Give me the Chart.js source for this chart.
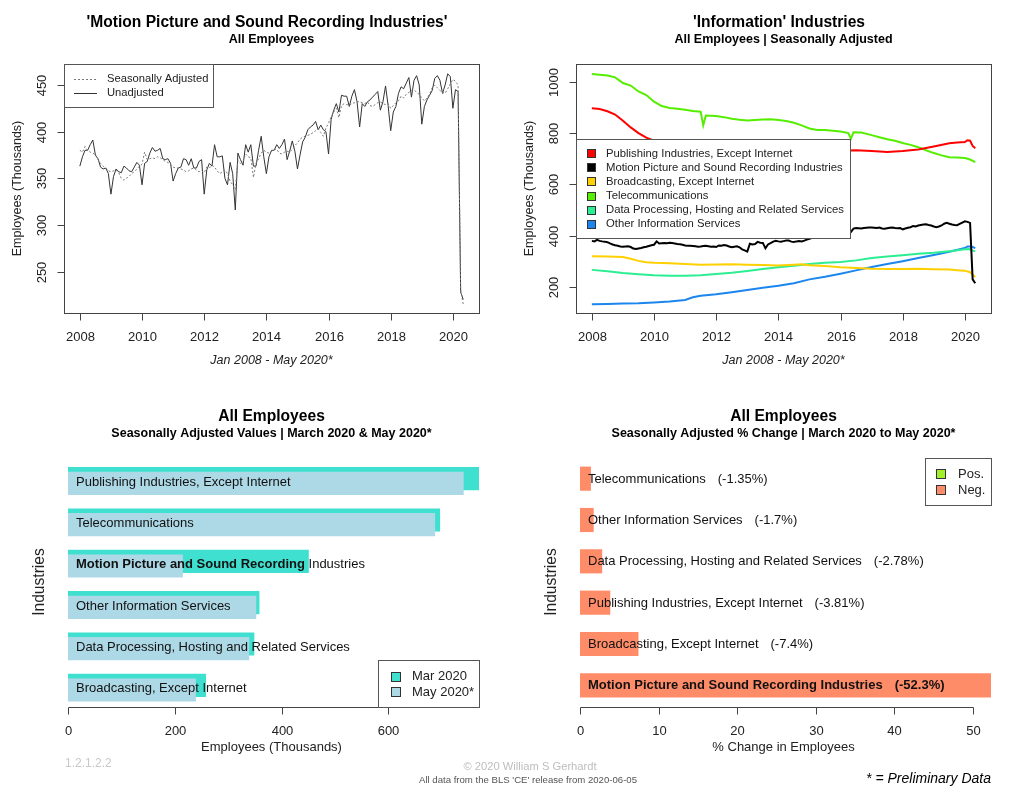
<!DOCTYPE html>
<html><head><meta charset="utf-8">
<script src="https://cdn.jsdelivr.net/npm/chart.js"></script>
<style>
html,body{margin:0;padding:0;background:#fff}
body{width:1024px;height:788px;position:relative;overflow:hidden;font-family:"Liberation Sans",Arial,sans-serif}
canvas{position:absolute}
.t{position:absolute;white-space:nowrap;line-height:1}
</style></head><body>
<canvas id="c1" width="512" height="394" style="left:0;top:0"></canvas>
<canvas id="c2" width="512" height="394" style="left:512px;top:0"></canvas>
<canvas id="c3" width="512" height="394" style="left:0;top:394px"></canvas>
<canvas id="c4" width="512" height="394" style="left:512px;top:394px"></canvas>
<div class="t" style="left:65px;top:757px;font-size:12px;color:#c8c8c8">1.2.1.2.2</div>
<div class="t" style="left:530px;top:767px;transform:translate(-50%,-50%);font-size:11.2px;color:#bdbdbd">© 2020 William S Gerhardt</div>
<div class="t" style="left:528px;top:780px;transform:translate(-50%,-50%);font-size:9.6px;color:#555">All data from the BLS 'CE' release from 2020-06-05</div>
<div class="t" style="right:33px;top:778px;transform:translateY(-50%);font-size:14px;font-style:italic;color:#000">* = Preliminary Data</div>
<script>
// ---------------- DATA ----------------
const startYear = 2008; // monthly series start Jan 2008, end May 2020
const yearTicks = [2008, 2010, 2012, 2014, 2016, 2018, 2020];
const motionTicks = [250, 300, 350, 400, 450];
const infoTicks = [200, 400, 600, 800, 1000];
const employeeTicks = [0, 200, 400, 600];
const pctTicks = [0, 10, 20, 30, 40, 50];

// Motion Picture and Sound Recording Industries (thousands), monthly
const motionSA = [
 380,378,384,380,378,377,375,370,366,363,361,358,
 357,358,359,356,350,348,350,352,355,357,360,363,
 365,378,370,371,372,371,373,372,370,368,367,365,
 362,361,361,360,359,357,358,360,361,359,357,358,
 356,362,361,364,362,358,355,357,359,355,347,343,
 338,369,366,368,376,373,372,351,366,371,377,380,
 378,377,379,381,381,377,376,378,379,378,381,385,
 388,392,394,395,396,397,399,401,403,399,395,404,
 409,416,421,425,415,428,430,429,428,430,431,432,
 432,431,430,432,428,427,429,431,432,430,429,430,
 425,428,431,433,438,436,440,442,444,445,442,440,
 436,433,436,440,447,450,447,444,442,441,446,451,
 456,454,450,230,215];
const motionNSA = [
 363,373,380,380,386,391,375,371,362,360,361,355,
 333,352,360,357,356,363,361,358,357,362,367,364,
 343,366,368,377,383,379,380,382,371,370,371,366,
 347,355,361,362,371,370,364,371,361,361,368,370,
 333,359,366,363,386,373,373,374,350,343,367,355,
 316,377,370,364,386,378,386,363,363,380,395,373,
 355,373,380,380,386,382,386,392,370,379,390,379,
 360,375,389,394,402,405,407,411,402,407,402,400,
 376,413,423,430,421,439,438,438,427,438,445,432,
 405,430,427,432,434,437,440,443,423,432,449,428,
 401,421,427,441,448,446,452,458,437,455,460,450,
 408,427,434,439,444,457,460,455,441,450,462,459,
 425,445,443,228,220];

// 'Information' industries, seasonally adjusted: [month index from Jan 2008, thousands]
const publishing = [[0,897],[3,894],[6,885],[9,872],[12,848],[15,822],[18,800],[21,782],[24,770],[30,758],[36,750],[42,744],[48,740],[54,737],[60,734],[66,732],[72,730],[78,729],[84,729],[90,730],[96,731],[102,733],[108,730],[114,726],[120,730],[126,736],[132,748],[138,760],[141,763],[144,765],[145,772],[146,770],[147,750],[148,741]];
const broadcasting = [[0,320],[6,319],[12,317],[15,310],[18,302],[21,297],[24,295],[30,293],[36,290],[42,287],[48,288],[54,289],[60,287],[66,286],[72,284],[78,287],[81,289],[84,285],[90,282],[96,277],[102,274],[108,271],[114,270],[120,270],[126,271],[132,269],[138,268],[141,266],[144,264],[146,258],[147,248],[148,239]];
const telecom = [[0,1030],[3,1027],[6,1024],[9,1017],[12,995],[15,985],[18,962],[21,948],[24,922],[27,905],[30,898],[33,895],[36,891],[39,886],[42,883],[43,830],[44,868],[48,866],[51,862],[54,856],[57,852],[60,849],[63,851],[66,853],[69,854],[72,851],[75,847],[78,840],[81,830],[84,818],[87,812],[90,812],[93,809],[96,806],[99,800],[100,778],[101,803],[104,802],[108,792],[111,784],[114,776],[117,770],[120,761],[123,754],[126,745],[129,733],[132,722],[135,713],[138,706],[141,705],[144,703],[146,697],[148,687]];
const dataProcessing = [[0,267],[6,262],[12,255],[18,250],[24,246],[30,244],[36,244],[42,246],[48,251],[54,256],[60,263],[66,270],[72,277],[78,283],[84,290],[90,295],[96,298],[102,304],[108,313],[114,319],[120,324],[126,330],[132,334],[138,340],[144,347],[146,348],[147,342],[148,339]];
const otherInfo = [[0,133],[6,134],[12,136],[18,137],[24,140],[30,144],[36,150],[39,160],[42,166],[48,172],[54,180],[60,189],[66,197],[72,205],[78,215],[84,230],[90,240],[96,252],[102,265],[108,278],[114,290],[120,301],[126,313],[132,325],[138,338],[144,352],[145,358],[146,358],[147,356],[148,352]];

// Bar panel: seasonally adjusted values, March 2020 & May 2020 (thousands)
const barCategories = ["Publishing Industries, Except Internet","Telecommunications","Motion Picture and Sound Recording Industries","Other Information Services","Data Processing, Hosting and Related Services","Broadcasting, Except Internet"];
const marValues = [770, 696.5, 450.5, 358, 348.5, 258];
const mayValues = [740.7, 687.1, 214.6, 352, 338.8, 239];

// % change panel
const pctCategories = ["Telecommunications","Other Information Services","Data Processing, Hosting and Related Services","Publishing Industries, Except Internet","Broadcasting, Except Internet","Motion Picture and Sound Recording Industries"];
const pctValues = [-1.35, -1.7, -2.78, -3.81, -7.4, -52.3];

const highlight = "Motion Picture and Sound Recording Industries";

// ---------------- HELPERS ----------------
const FAM = '"Liberation Sans", Arial, Helvetica, sans-serif';
const F = (s, w = 'normal', st = 'normal') => `${st} ${w} ${s}px ${FAM}`;
const monthX = i => startYear + i / 12;
const series = arr => arr.map(([m, v]) => ({x: monthX(m), y: v}));
const monthly = arr => arr.map((v, i) => ({x: monthX(i), y: v}));

const COL = {pub:'#FF0000', mot:'#000000', brd:'#FFD000', tel:'#55EE00', dp:'#2BEE92', oth:'#1C86EE',
  mar:'#40E0D0', may:'#ADD8E6', pos:'#A2F02C', neg:'#FF8C69'};

function drawPanel(chart, p) {
  const ctx = chart.ctx, ca = chart.chartArea, xs = chart.scales.x, ys = chart.scales.y;
  ctx.save();
  ctx.fillStyle = '#000'; ctx.textAlign = 'center'; ctx.textBaseline = 'middle';
  ctx.font = F(15.6, 'bold'); ctx.fillText(p.title, p.titleX || 271.5, 22.7);
  ctx.font = F(12.5, 'bold'); ctx.fillText(p.subtitle, 271.5, 39.5);
  ctx.strokeStyle = '#444'; ctx.lineWidth = 1;
  if (p.box) {
    ctx.strokeRect(Math.round(ca.left) + 0.5, Math.round(ca.top) + 0.5, Math.round(ca.right - ca.left), Math.round(ca.bottom - ca.top));
  }
  // x axis
  const axY = Math.round(p.axisY ?? ca.bottom) + 0.5;
  const xp = p.xTicks.map(v => Math.round(xs.getPixelForValue(v)) + 0.5);
  ctx.beginPath();
  ctx.moveTo(xp[0], axY); ctx.lineTo(xp[xp.length - 1], axY);
  xp.forEach(x => { ctx.moveTo(x, axY); ctx.lineTo(x, axY + 7); });
  ctx.stroke();
  ctx.fillStyle = '#222'; ctx.font = F(13);
  p.xTicks.forEach((v, i) => ctx.fillText(String(v), xp[i], axY + 24));
  ctx.font = F(p.xTitleSize || 13, 'normal', p.xTitleItalic ? 'italic' : 'normal');
  ctx.fillText(p.xTitle, 271.5, axY + p.xTitleOffset);
  // y axis
  if (p.yTicks) {
    const axX = Math.round(ca.left) + 0.5;
    const yp = p.yTicks.map(v => Math.round(ys.getPixelForValue(v)) + 0.5);
    ctx.beginPath();
    ctx.moveTo(axX, yp[0]); ctx.lineTo(axX, yp[yp.length - 1]);
    yp.forEach(y => { ctx.moveTo(axX, y); ctx.lineTo(axX - 7, y); });
    ctx.stroke();
    ctx.font = F(13);
    p.yTicks.forEach((v, i) => {
      ctx.save(); ctx.translate(axX - 22, yp[i]); ctx.rotate(-Math.PI / 2);
      ctx.fillText(String(v), 0, 0); ctx.restore();
    });
  }
  ctx.save();
  ctx.translate(p.yTitleX, (ca.top + ca.bottom) / 2); ctx.rotate(-Math.PI / 2);
  ctx.font = F(p.yTitleSize); ctx.fillStyle = '#222';
  ctx.fillText(p.yTitle, 0, 0);
  ctx.restore();
  if (p.legend) p.legend(ctx);
  ctx.restore();
}

function legendBox(ctx, x, y, w, h) {
  ctx.fillStyle = '#fff'; ctx.fillRect(x, y, w, h);
  ctx.strokeStyle = '#555'; ctx.lineWidth = 1;
  ctx.strokeRect(Math.round(x) + 0.5, Math.round(y) + 0.5, Math.round(w), Math.round(h));
}
function squareItems(ctx, items, sx, tx, y0, dy, size, fs) {
  ctx.textAlign = 'left'; ctx.textBaseline = 'middle'; ctx.font = F(fs);
  items.forEach((it, i) => {
    const y = y0 + i * dy;
    ctx.fillStyle = it.color; ctx.fillRect(sx, Math.round(y - size / 2), size, size);
    ctx.strokeStyle = '#333'; ctx.lineWidth = 1;
    ctx.strokeRect(sx + 0.5, Math.round(y - size / 2) + 0.5, size - 1, size - 1);
    ctx.fillStyle = '#222'; ctx.fillText(it.label, tx, y);
  });
}

Chart.defaults.font.family = FAM;
const base = (pad) => ({
  responsive: false, animation: false, devicePixelRatio: 1,
  layout: {padding: pad},
  plugins: {legend: {display: false}, tooltip: {enabled: false}, title: {display: false}},
  events: []
});

// ---------------- CHART 1 ----------------
new Chart(document.getElementById('c1'), {
  type: 'line',
  data: {datasets: [
    {label: 'Seasonally Adjusted', data: monthly(motionSA), borderColor: '#777', borderWidth: 1, borderDash: [2, 2], pointRadius: 0, tension: 0},
    {label: 'Unadjusted', data: monthly(motionNSA), borderColor: '#333', borderWidth: 1, pointRadius: 0, tension: 0}
  ]},
  options: Object.assign(base({left: 64, top: 64, right: 33, bottom: 81}), {
    scales: {x: {type: 'linear', min: 2007.49, max: 2020.84, display: false},
             y: {type: 'linear', min: 205.6, max: 472.5, display: false}}
  }),
  plugins: [{id: 'p1', afterDraw(chart) {
    drawPanel(chart, {
      title: "'Motion Picture and Sound Recording Industries'", titleX: 267, subtitle: 'All Employees', box: true,
      xTicks: yearTicks, yTicks: motionTicks, xTitle: 'Jan 2008 - May 2020*', xTitleItalic: true, xTitleSize: 12.5, xTitleOffset: 47,
      yTitle: 'Employees (Thousands)', yTitleX: 18, yTitleSize: 12.5,
      legend(ctx) {
        legendBox(ctx, 64, 64, 149, 43);
        ctx.lineWidth = 1;
        ctx.strokeStyle = '#777'; ctx.setLineDash([2, 2]);
        ctx.beginPath(); ctx.moveTo(74, 79.5); ctx.lineTo(97, 79.5); ctx.stroke();
        ctx.setLineDash([]); ctx.strokeStyle = '#333';
        ctx.beginPath(); ctx.moveTo(74, 93.5); ctx.lineTo(97, 93.5); ctx.stroke();
        ctx.fillStyle = '#222'; ctx.textAlign = 'left'; ctx.font = F(11.2);
        ctx.fillText('Seasonally Adjusted', 107, 79); ctx.fillText('Unadjusted', 107, 93);
      }
    });
  }}]
});

// ---------------- CHART 2 ----------------
const infoSeries = [
  {label: 'Publishing Industries, Except Internet', data: series(publishing), color: COL.pub},
  {label: 'Motion Picture and Sound Recording Industries', data: monthly(motionSA), color: COL.mot},
  {label: 'Broadcasting, Except Internet', data: series(broadcasting), color: COL.brd},
  {label: 'Telecommunications', data: series(telecom), color: COL.tel},
  {label: 'Data Processing, Hosting and Related Services', data: series(dataProcessing), color: COL.dp},
  {label: 'Other Information Services', data: series(otherInfo), color: COL.oth}
];
new Chart(document.getElementById('c2'), {
  type: 'line',
  data: {datasets: infoSeries.map(s => ({label: s.label, data: s.data, borderColor: s.color, borderWidth: 2, pointRadius: 0, tension: 0}))},
  options: Object.assign(base({left: 64, top: 64, right: 33, bottom: 81}), {
    scales: {x: {type: 'linear', min: 2007.49, max: 2020.84, display: false},
             y: {type: 'linear', min: 99, max: 1069, display: false}}
  }),
  plugins: [{id: 'p2', afterDraw(chart) {
    drawPanel(chart, {
      title: "'Information' Industries", titleX: 267, subtitle: 'All Employees | Seasonally Adjusted', box: true,
      xTicks: yearTicks, yTicks: infoTicks, xTitle: 'Jan 2008 - May 2020*', xTitleItalic: true, xTitleSize: 12.5, xTitleOffset: 47,
      yTitle: 'Employees (Thousands)', yTitleX: 18, yTitleSize: 12.5,
      legend(ctx) {
        legendBox(ctx, 64, 139, 274, 99);
        squareItems(ctx, infoSeries.map(s => ({label: s.label, color: s.color})), 75, 94, 153.7, 14.1, 9, 11.3);
      }
    });
  }}]
});

// ---------------- CHART 3 ----------------
const shiftPlugin = {id: 'shift',
  beforeDatasetDraw(chart, args) { if (args.index === 1) { chart.ctx.save(); chart.ctx.translate(0, 4.7); } },
  afterDatasetDraw(chart, args) { if (args.index === 1) chart.ctx.restore(); }
};
new Chart(document.getElementById('c3'), {
  type: 'bar',
  data: {labels: barCategories, datasets: [
    {label: 'Mar 2020', data: marValues, backgroundColor: COL.mar, barThickness: 22.5, grouped: false, order: 2},
    {label: 'May 2020*', data: mayValues, backgroundColor: COL.may, barThickness: 22.5, grouped: false, order: 1}
  ]},
  options: Object.assign(base({left: 68, top: 64, right: 33, bottom: 82}), {
    indexAxis: 'y',
    scales: {x: {type: 'linear', min: 0, max: Math.max(...marValues), display: false},
             y: {type: 'category', offset: true, display: false}}
  }),
  plugins: [shiftPlugin, {id: 'p3', afterDraw(chart) {
    const ctx = chart.ctx, ys = chart.scales.y;
    ctx.save(); ctx.textAlign = 'left'; ctx.textBaseline = 'middle'; ctx.fillStyle = '#111';
    barCategories.forEach((c, i) => {
      ctx.font = F(13, c === highlight ? 'bold' : 'normal');
      if (c === highlight) {
        const boldPart = 'Motion Picture and Sound Recording';
        ctx.fillText(boldPart, 76, ys.getPixelForValue(i) + 3.3);
        const w = ctx.measureText(boldPart + ' ').width;
        ctx.font = F(13); ctx.fillText('Industries', 76 + w, ys.getPixelForValue(i) + 3.3);
      } else ctx.fillText(c, 76, ys.getPixelForValue(i) + 3.3);
    });
    ctx.restore();
    drawPanel(chart, {
      title: 'All Employees', subtitle: 'Seasonally Adjusted Values | March 2020 & May 2020*', box: false,
      axisY: 313, xTicks: employeeTicks, xTitle: 'Employees (Thousands)', xTitleOffset: 40,
      yTitle: 'Industries', yTitleX: 40, yTitleSize: 15.6,
      legend(ctx) {
        legendBox(ctx, 378, 266, 101, 47);
        squareItems(ctx, [{label: 'Mar 2020', color: COL.mar}, {label: 'May 2020*', color: COL.may}], 391, 412, 282.7, 15.6, 10, 13);
      }
    });
  }}]
});

// ---------------- CHART 4 ----------------
new Chart(document.getElementById('c4'), {
  type: 'bar',
  data: {labels: pctCategories, datasets: [
    {label: '% change', data: pctValues.map(v => Math.abs(v)), backgroundColor: pctValues.map(v => v >= 0 ? COL.pos : COL.neg), barThickness: 23.5}
  ]},
  options: Object.assign(base({left: 68, top: 64, right: 33, bottom: 82}), {
    indexAxis: 'y',
    scales: {x: {type: 'linear', min: 0, max: Math.max(...pctValues.map(v => Math.abs(v))), display: false},
             y: {type: 'category', offset: true, display: false}}
  }),
  plugins: [{id: 'p4', afterDraw(chart) {
    const ctx = chart.ctx, ys = chart.scales.y;
    ctx.save(); ctx.textAlign = 'left'; ctx.textBaseline = 'middle'; ctx.fillStyle = '#111';
    pctCategories.forEach((c, i) => {
      ctx.font = F(13, c === highlight ? 'bold' : 'normal');
      const y = ys.getPixelForValue(i) + 0.5;
      ctx.fillText(c, 76, y);
      const w = ctx.measureText(c).width;
      ctx.fillText('(' + pctValues[i] + '%)', 76 + w + 12, y);
    });
    ctx.restore();
    drawPanel(chart, {
      title: 'All Employees', subtitle: 'Seasonally Adjusted % Change | March 2020 to May 2020*', box: false,
      axisY: 313, xTicks: pctTicks, xTitle: '% Change in Employees', xTitleOffset: 40,
      yTitle: 'Industries', yTitleX: 40, yTitleSize: 15.6,
      legend(ctx) {
        legendBox(ctx, 413, 64, 66, 47);
        squareItems(ctx, [{label: 'Pos.', color: COL.pos}, {label: 'Neg.', color: COL.neg}], 424, 446, 80, 16, 10, 13);
      }
    });
  }}]
});
</script>
</body></html>
